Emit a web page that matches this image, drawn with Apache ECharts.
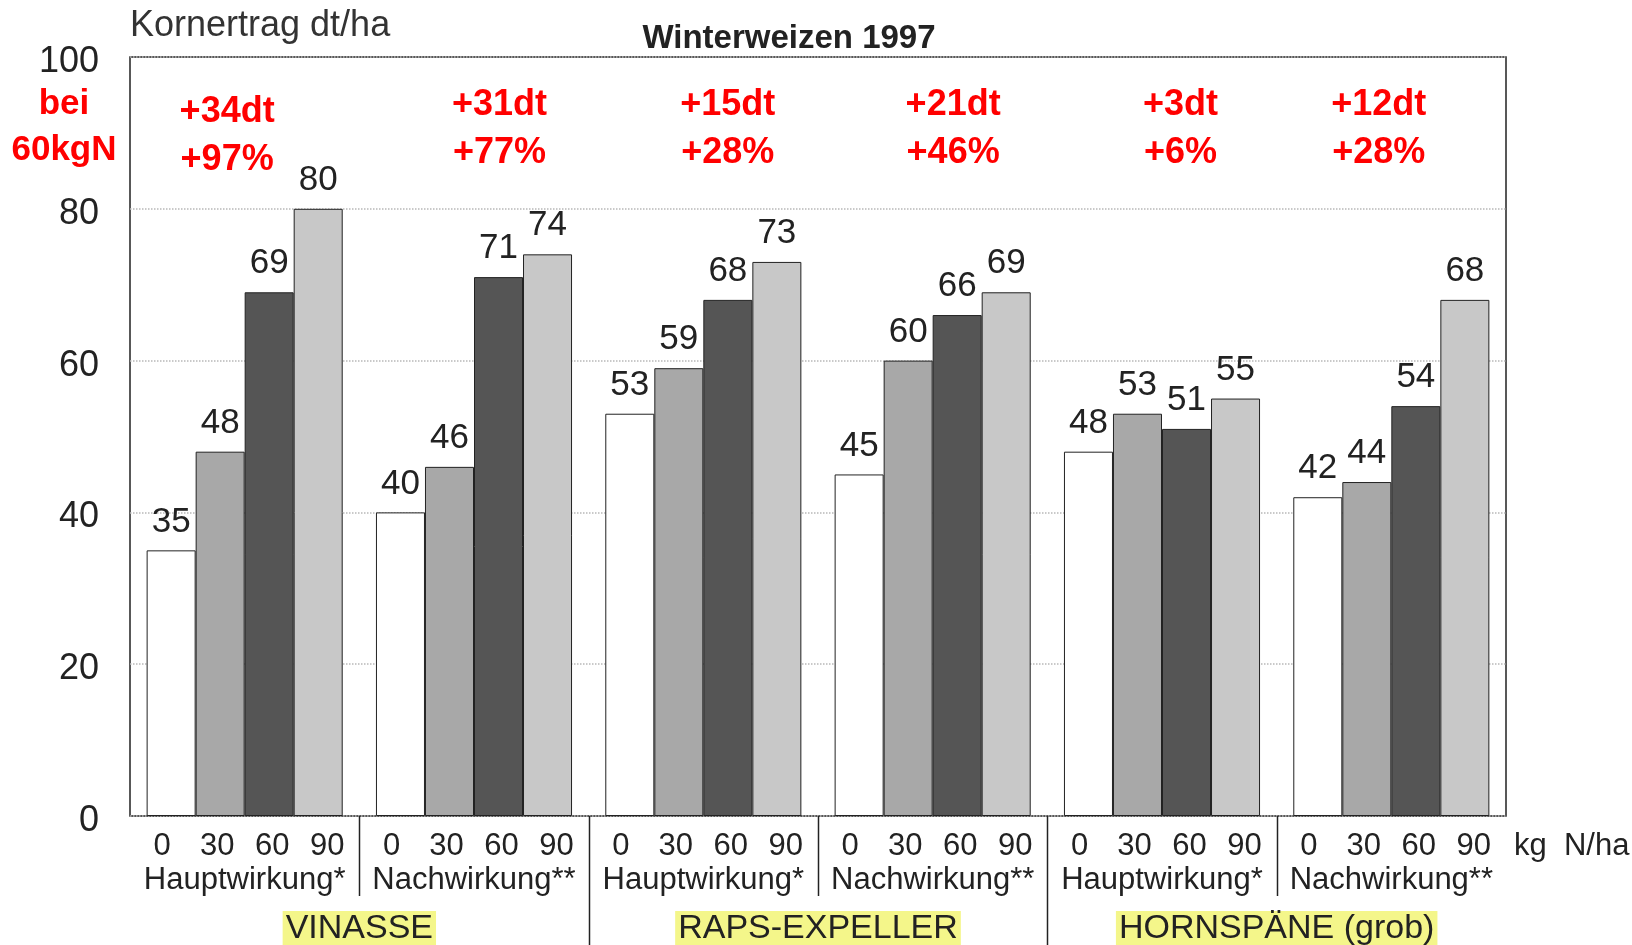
<!DOCTYPE html>
<html>
<head>
<meta charset="utf-8">
<title>Winterweizen 1997</title>
<script src="https://cdn.jsdelivr.net/npm/echarts@6/dist/echarts.min.js"></script>
<style>
  html, body { margin: 0; padding: 0; background: #fff; }
  #chart { width: 1632px; height: 945px; }
</style>
</head>
<body>
<div id="chart"></div>
<script>
// Kornertrag dt/ha, Winterweizen 1997
const categories = ['Hauptwirkung*', 'Nachwirkung**', 'Hauptwirkung*', 'Nachwirkung**', 'Hauptwirkung*', 'Nachwirkung**'];
const treatments = ['VINASSE', 'RAPS-EXPELLER', 'HORNSPÄNE (grob)'];
const doses = ['0', '30', '60', '90'];

const yieldN0 = [35, 40, 53, 45, 48, 42];
const yieldN30 = [48, 46, 59, 60, 53, 44];
const yieldN60 = [69, 71, 68, 66, 51, 54];
const yieldN90 = [80, 74, 73, 69, 55, 68];

// Mehrertrag bei 60 kg N
const gainDt = ['+34dt', '+31dt', '+15dt', '+21dt', '+3dt', '+12dt'];
const gainPct = ['+97%', '+77%', '+28%', '+46%', '+6%', '+28%'];

const FONT = '"Liberation Sans", Arial, sans-serif';
const barColors = ['#ffffff', '#a8a8a8', '#555555', '#c8c8c8'];
// markPoint sits on the first bar of each group, so shift by 1.5 bar widths
const gainOffsetX = [-17, 26, 25, 21, 19, -12].map(v => v + 73);
const gainY = [89.6, 90.5, 90.5, 90.5, 90.5, 90.5];

const chartDom = document.getElementById('chart');
const myChart = echarts.init(chartDom, null, { renderer: 'canvas' });

const seriesData = [yieldN0, yieldN30, yieldN60, yieldN90];

const series = seriesData.map((d, i) => ({
  name: doses[i],
  type: 'bar',
  data: d,
  barGap: '0%',
  barCategoryGap: '14.5%',
  itemStyle: { color: barColors[i], borderColor: '#222', borderWidth: 1 },
  label: {
    show: true,
    position: 'top',
    distance: 11,
    fontFamily: FONT,
    fontSize: 35,
    color: '#222'
  },
  emphasis: { disabled: true }
}));

series[0].markPoint = {
  symbol: 'circle',
  symbolSize: 0,
  silent: true,
  label: {
    show: true,
    position: 'inside',
    formatter: '{b}',
    fontFamily: FONT,
    fontWeight: 'bold',
    fontSize: 36,
    lineHeight: 48,
    color: '#ff0000'
  },
  data: gainDt.map((t, i) => ({
    name: t + '\n' + gainPct[i],
    coord: [i, gainY[i]],
    label: { offset: [gainOffsetX[i], 0] }
  }))
};

let option = {
  backgroundColor: '#ffffff',
  animation: false,
  title: {
    text: 'Winterweizen 1997',
    left: 784,
    top: 17,
    textAlign: 'center',
    textStyle: { fontFamily: FONT, fontSize: 33, fontWeight: 'bold', color: '#222' }
  },
  grid: {
    left: 130,
    right: 126,
    top: 57,
    bottom: 129,
    show: true,
    borderColor: '#222',
    borderWidth: 1.5,
    outerBoundsMode: 'none'
  },
  xAxis: [
    {
      type: 'category',
      position: 'bottom',
      data: categories,
      axisLine: { show: false },
      axisTick: { show: false },
      axisLabel: {
        interval: 0,
        margin: 13,
        formatter: (v) => doses.map(d => '{n|' + d + '}').join('') + '\n{g|' + v + '}',
        rich: {
          n: { fontFamily: FONT, fontSize: 31, color: '#222', width: 55, align: 'center', lineHeight: 34 },
          g: { fontFamily: FONT, fontSize: 31, color: '#222', align: 'center', lineHeight: 34 }
        }
      }
    },
    {
      type: 'category',
      position: 'bottom',
      data: treatments,
      axisLine: { show: false },
      axisTick: { show: false },
      splitLine: { show: false },
      axisLabel: {
        interval: 0,
        margin: 95,
        fontFamily: FONT,
        fontSize: 34,
        color: '#222',
        backgroundColor: '#f4f68a',
        padding: [1, 3, 0, 3]
      }
    }
  ],
  yAxis: {
    type: 'value',
    min: 0,
    max: 100,
    interval: 20,
    name: 'Kornertrag dt/ha',
    nameLocation: 'end',
    nameGap: 13,
    nameTextStyle: { fontFamily: FONT, fontSize: 36, color: '#333', align: 'left' },
    axisLine: { show: false },
    axisTick: { show: false },
    axisLabel: {
      margin: 31,
      formatter: '{v|{value}}',
      rich: {
        v: { fontFamily: FONT, fontSize: 36, color: '#222', padding: [10, 0, 0, 0] }
      }
    },
    splitLine: { lineStyle: { color: '#b8b8b8', type: 'dotted', width: 1.5 } }
  },
  series: series
};

option && myChart.setOption(option);

// separators below the category axis and side texts
const cx = (i) => myChart.convertToPixel({ xAxisIndex: 0 }, i);
const y0 = myChart.convertToPixel({ yAxisIndex: 0 }, 0);
const graphics = [];
for (let i = 0; i < categories.length - 1; i++) {
  const x = Math.round((cx(i) + cx(i + 1)) / 2) + 0.5;
  const long = i % 2 === 1;
  graphics.push({
    type: 'line',
    silent: true,
    shape: { x1: x, y1: y0, x2: x, y2: long ? 945 : y0 + 80 },
    style: { stroke: '#222', lineWidth: 1.5 }
  });
}
graphics.push({
  type: 'text',
  silent: true,
  style: {
    x: 64, y: 127,
    text: 'bei\n60kgN',
    textAlign: 'center',
    textVerticalAlign: 'middle',
    font: 'bold 35px ' + FONT,
    lineHeight: 46,
    fill: '#ff0000'
  }
});
graphics.push({
  type: 'text',
  silent: true,
  style: {
    x: 1514, y: y0 + 30,
    text: 'kg  N/ha',
    textVerticalAlign: 'middle',
    font: '31px ' + FONT,
    fill: '#222'
  }
});
myChart.setOption({ graphic: graphics });
</script>
</body>
</html>
